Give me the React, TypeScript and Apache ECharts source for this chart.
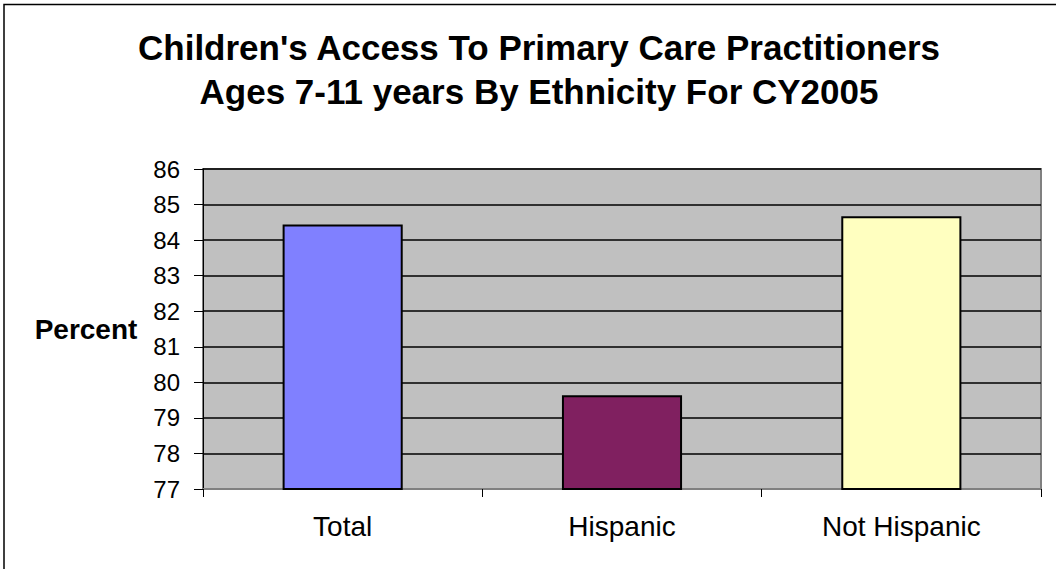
import React, { useEffect, useRef } from "react";
import * as echarts from "echarts";

const titleLines = [
  "Children's Access To Primary Care Practitioners",
  "Ages 7-11 years By Ethnicity For CY2005",
];
const categories = ["Total", "Hispanic", "Not Hispanic"];
const values = [84.44, 79.64, 84.67];
const barColors = ["#8080FF", "#802060", "#FFFFC0"];
const yMin = 77;
const yMax = 86;
const yInterval = 1;
const yAxisTitle = "Percent";

export default function App() {
  const ref = useRef<HTMLDivElement>(null);
  useEffect(() => {
    document.body.style.margin = "0";
    const chart = echarts.init(ref.current!, null, { renderer: "svg" });
    const font = "Arial, 'Liberation Sans', Helvetica, sans-serif";
    chart.setOption({
      animation: false,
      backgroundColor: "#ffffff",
      title: {
        text: titleLines.join("\n"),
        left: 534,
        top: 20,
        textAlign: "center",
        textStyle: {
          fontFamily: font,
          fontSize: 35,
          fontWeight: "bold",
          color: "#000",
          lineHeight: 44,
        },
      },
      graphic: [
        {
          type: "rect",
          shape: { x: 4, y: 4.5, width: 1060, height: 580 },
          style: { fill: "none", stroke: "#000", lineWidth: 1.5 },
          silent: true,
        },
        {
          type: "text",
          x: 86,
          y: 329,
          style: {
            text: yAxisTitle,
            fontFamily: font,
            fontSize: 28,
            fontWeight: "bold",
            fill: "#000",
            align: "center",
            verticalAlign: "middle",
          },
        },
      ],
      grid: {
        left: 203,
        right: 15,
        top: 169,
        bottom: 80,
        show: true,
        backgroundColor: "#C0C0C0",
        borderColor: "#808080",
        borderWidth: 2,
      },
      xAxis: {
        type: "category",
        data: categories,
        axisLine: { show: true, lineStyle: { color: "#808080", width: 2 } },
        axisTick: { show: true, length: 8, lineStyle: { color: "#000" } },
        axisLabel: {
          fontFamily: font,
          fontSize: 28,
          color: "#000",
          margin: 23,
        },
      },
      yAxis: {
        type: "value",
        min: yMin,
        max: yMax,
        interval: yInterval,
        axisLine: { show: true, lineStyle: { color: "#000", width: 1 } },
        axisTick: { show: true, length: 9, lineStyle: { color: "#000" } },
        axisLabel: {
          fontFamily: font,
          fontSize: 24,
          color: "#000",
          margin: 23,
        },
        splitLine: { show: true, lineStyle: { color: "#000", width: 1.5 } },
      },
      series: [
        {
          type: "bar",
          data: values.map((v, i) => ({
            value: v,
            itemStyle: { color: barColors[i] },
          })),
          barWidth: "43%",
          itemStyle: { borderColor: "#000", borderWidth: 2 },
        },
      ],
    });
    return () => chart.dispose();
  }, []);
  return <div ref={ref} style={{ width: 1056, height: 569 }} />;
}
